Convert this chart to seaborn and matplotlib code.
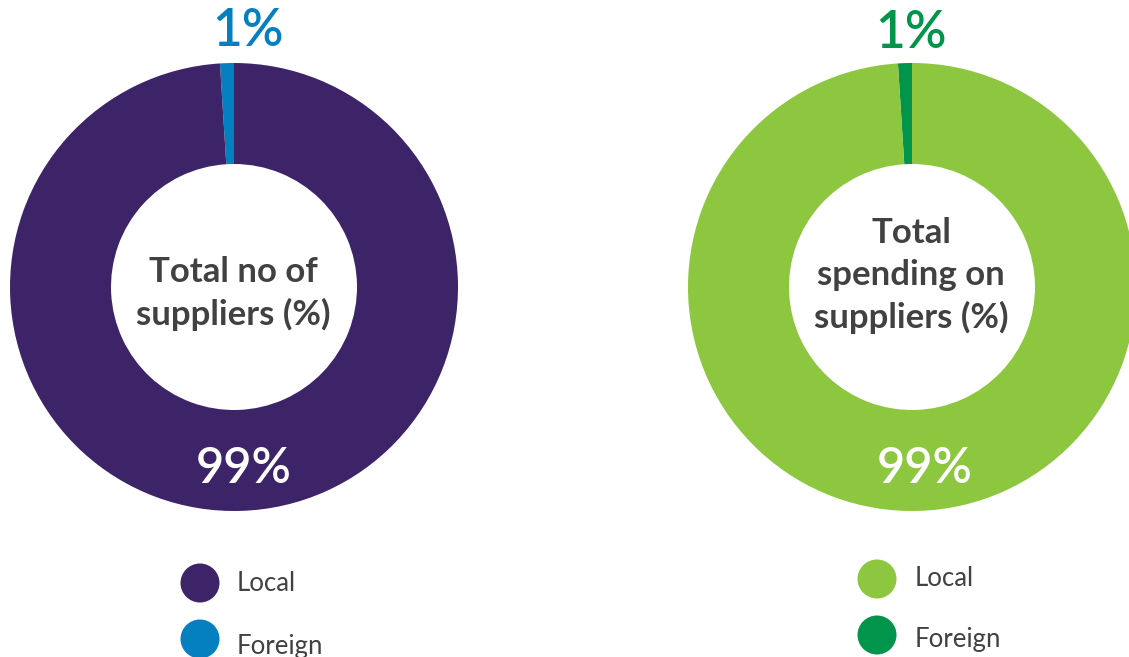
import matplotlib
matplotlib.use("Agg")
import matplotlib.pyplot as plt
import matplotlib.patches as mpatches
import seaborn as sns

sns.set_theme(style="white")
plt.rcParams["font.family"] = ["Lato", "DejaVu Sans"]

# Data
categories = ["Foreign", "Local"]
legend_order = ["Local", "Foreign"]
suppliers_count_pct = [1, 99]
suppliers_spend_pct = [1, 99]
titles = ["Total no of\nsuppliers (%)", "Total\nspending on\nsuppliers (%)"]

# Colours
purple = "#3d2468"
blue = "#0480c1"
light_green = "#8dc63f"
dark_green = "#00954a"
text_grey = "#414042"

W, H = 1129, 657
fig = plt.figure(figsize=(W / 100, H / 100), dpi=100)
ax = fig.add_axes([0, 0, 1, 1])


def Y(y):
    return H - y


donuts = [
    dict(values=suppliers_count_pct, colors=[blue, purple], cx=234, cy=287,
         title=titles[0], title_y=[272, 314],
         big=(244, 469), small=(248, 31), legend_x=200, legend_y=[583, 639],
         legend_base=[591, 654], text_x=237),
    dict(values=suppliers_spend_pct, colors=[dark_green, light_green], cx=912, cy=287,
         title=titles[1], title_y=[233, 275, 317],
         big=(925, 469), small=(911, 34), legend_x=877, legend_y=[579, 635],
         legend_base=[586, 647], text_x=915),
]

R_OUT, R_IN = 224, 123

for d in donuts:
    ax.pie(d["values"], colors=d["colors"], startangle=90, counterclock=True,
           center=(d["cx"], Y(d["cy"])), radius=R_OUT,
           wedgeprops=dict(width=R_OUT - R_IN, linewidth=0), frame=True)
    # centre caption
    for line, ly in zip(d["title"].split("\n"), d["title_y"]):
        ax.text(d["cx"] - 1, Y(ly), line, ha="center", va="center",
                fontsize=25, fontweight="bold", color=text_grey)
    # value labels
    local_val = d["values"][categories.index("Local")]
    foreign_val = d["values"][categories.index("Foreign")]
    ax.text(d["big"][0], Y(d["big"][1]), f"{local_val}%", ha="center", va="center",
            fontsize=35, fontweight="semibold", color="white")
    ax.text(d["small"][0], Y(d["small"][1]), f"{foreign_val}%", ha="center", va="center",
            fontsize=37, fontweight="semibold", color=d["colors"][0])
    # legend
    for name, ly, lb in zip(legend_order, d["legend_y"], d["legend_base"]):
        col = d["colors"][categories.index(name)]
        ax.add_patch(mpatches.Circle((d["legend_x"], Y(ly)), 19.5, color=col, lw=0))
        ax.text(d["text_x"], Y(lb), name, ha="left", va="baseline",
                fontsize=18.5, color=text_grey)

ax.set_xlim(0, W)
ax.set_ylim(0, H)
ax.set_aspect("equal")
ax.axis("off")

fig.savefig("out.png", dpi=100, facecolor="white")
